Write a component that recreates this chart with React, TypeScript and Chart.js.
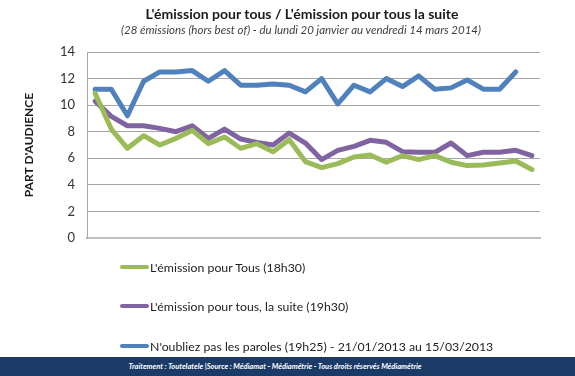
import React, { useEffect, useRef } from "react";
import { Chart, registerables } from "chart.js";
Chart.register(...registerables);

const titleText = "L'émission pour tous / L'émission pour tous la suite";
const subtitleText = "(28 émissions (hors best of) - du lundi 20 janvier au vendredi 14 mars 2014)";
const yAxisTitle = "PART D'AUDIENCE";
const footerText = "Traitement : Toutelatele |Source : Médiamat - Médiamétrie - Tous droits réservés Médiamétrie";

const categories = ["1", "2", "3", "4", "5", "6", "7", "8", "9", "10", "11", "12", "13", "14", "15", "16", "17", "18", "19", "20", "21", "22", "23", "24", "25", "26", "27", "28"];
const yTicks = [0, 2, 4, 6, 8, 10, 12, 14];

const seriesNames = [
  "L'émission pour Tous (18h30)",
  "L'émission pour tous, la suite (19h30)",
  "N'oubliez pas les paroles (19h25) - 21/01/2013 au 15/03/2013",
];
const seriesColors = ["#9BBB59", "#8064A2", "#4F81BD"];

const emissionTous = [10.9, 8.2, 6.75, 7.7, 7.0, 7.5, 8.1, 7.1, 7.6, 6.75, 7.1, 6.5, 7.4, 5.75, 5.3, 5.6, 6.1, 6.25, 5.7, 6.2, 5.9, 6.2, 5.7, 5.45, 5.5, 5.65, 5.8, 5.15];
const emissionSuite = [10.3, 9.15, 8.45, 8.45, 8.25, 8.0, 8.45, 7.5, 8.2, 7.45, 7.2, 7.0, 7.9, 7.15, 5.9, 6.6, 6.9, 7.35, 7.2, 6.5, 6.45, 6.45, 7.15, 6.2, 6.45, 6.45, 6.6, 6.2];
const noplp = [11.2, 11.2, 9.2, 11.8, 12.5, 12.5, 12.6, 11.8, 12.6, 11.5, 11.5, 11.6, 11.5, 11.0, 12.0, 10.1, 11.5, 11.0, 12.0, 11.4, 12.2, 11.2, 11.3, 11.9, 11.2, 11.2, 12.5, null];

const seriesData = [emissionTous, emissionSuite, noplp];
const legendY = [267, 306, 346];

export default function App() {
  const ref = useRef<HTMLCanvasElement>(null);

  useEffect(() => {
    document.body.style.margin = "0";
    const chart = new Chart(ref.current!, {
      type: "line",
      data: {
        labels: categories,
        datasets: seriesData.map((d, i) => ({
          label: seriesNames[i],
          data: d,
          borderColor: seriesColors[i],
          backgroundColor: seriesColors[i],
          borderWidth: 5,
          pointRadius: 0,
          tension: 0,
          fill: false,
          borderCapStyle: "round" as const,
          borderJoinStyle: "round" as const,
        })),
      },
      options: {
        responsive: false,
        animation: false,
        layout: { padding: { top: 52, bottom: 138, left: 22, right: 35 } },
        plugins: {
          legend: { display: false },
          title: { display: false },
          tooltip: { enabled: false },
        },
        scales: {
          x: {
            offset: true,
            grid: { display: false, drawTicks: false },
            ticks: { display: false },
            border: { display: true, color: "#BFBFBF", width: 2 },
          },
          y: {
            min: 0,
            max: 14,
            afterBuildTicks: (s: any) => {
              s.ticks = yTicks.map((v) => ({ value: v }));
            },
            ticks: {
              padding: 12,
              color: "#333",
              font: { family: "Lato", size: 13 },
            },
            grid: { color: "#A6A6A6", drawTicks: false, lineWidth: 1 },
            border: { color: "#A6A6A6", width: 1 },
            title: {
              display: true,
              text: yAxisTitle,
              color: "#1a1a1a",
              font: { family: "Lato", size: 12, weight: "bold" },
              padding: 0,
            },
            afterFit: (s: any) => {
              s.width = 87 - 22;
            },
          },
        },
      },
    });
    return () => chart.destroy();
  }, []);

  return (
    <div style={{ position: "relative", width: 575, height: 376, background: "#fff", overflow: "hidden", fontFamily: "Lato, sans-serif" }}>
      <canvas ref={ref} width={575} height={376} style={{ position: "absolute", left: 0, top: 0 }} />
      <div style={{ position: "absolute", left: 0, width: 604, top: 5, textAlign: "center", fontWeight: "bold", fontSize: 14, color: "#1a1a1a", lineHeight: "18px" }}>
        {titleText}
      </div>
      <div style={{ position: "absolute", left: 0, width: 602, top: 22, textAlign: "center", fontStyle: "italic", fontSize: 11.5, color: "#404040", lineHeight: "16px" }}>
        {subtitleText}
      </div>
      {seriesNames.map((name, i) => (
        <div key={i} style={{ position: "absolute", left: 120, top: legendY[i] - 9, height: 18, display: "flex", alignItems: "center", whiteSpace: "nowrap" }}>
          <div style={{ width: 29, height: 4, borderRadius: 2, background: seriesColors[i], marginRight: 1 }} />
          <span style={{ fontSize: 12.3, color: "#222" }}>{name}</span>
        </div>
      ))}
      <div style={{ position: "absolute", left: 0, top: 357, width: 575, height: 19, background: "#1B3A67" }} />
      <div style={{ position: "absolute", left: 0, top: 357, width: 550, height: 19, color: "#fff", fontSize: 7.5, fontStyle: "italic", fontWeight: "bold", textAlign: "center", lineHeight: "19px", whiteSpace: "nowrap" }}>
        {footerText}
      </div>
    </div>
  );
}
